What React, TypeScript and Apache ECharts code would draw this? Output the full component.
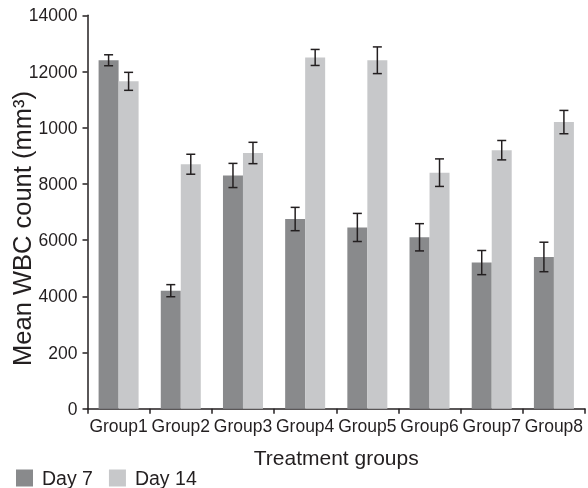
import React, { useEffect, useRef } from "react";
import * as echarts from "echarts";

const categories = ["Group1", "Group2", "Group3", "Group4", "Group5", "Group6", "Group7", "Group8"];
const day7 = [12400, 4200, 8300, 6750, 6450, 6100, 5200, 5400];
const day7Err = [195, 215, 430, 415, 500, 485, 430, 525];
const day14 = [11650, 8700, 9100, 12500, 12400, 8400, 9200, 10200];
const day14Err = [320, 355, 380, 285, 475, 490, 345, 415];
const yTickLabels = ["0", "200", "4000", "6000", "8000", "1000", "12000", "14000"];

const FONT = "Liberation Sans";
const TEXT = "#231f20";
const DARK = "#898a8c";
const LIGHT = "#c7c8ca";

function errorSeries(name: string, values: number[], errs: number[], offset: number) {
  return {
    name: name + " err",
    type: "custom",
    z: 10,
    silent: true,
    data: values.map((v, i) => [i, v, errs[i]]),
    renderItem: (params: any, api: any) => {
      const i = api.value(0);
      const v = api.value(1);
      const e = api.value(2);
      const c = api.coord([i, v]);
      const hi = api.coord([i, v + e]);
      const lo = api.coord([i, v - e]);
      const x = c[0] + offset;
      const cap = 4.5;
      const style = { stroke: TEXT, lineWidth: 1.5 };
      return {
        type: "group",
        children: [
          { type: "line", shape: { x1: x, y1: hi[1], x2: x, y2: lo[1] }, style },
          { type: "line", shape: { x1: x - cap, y1: hi[1], x2: x + cap, y2: hi[1] }, style },
          { type: "line", shape: { x1: x - cap, y1: lo[1], x2: x + cap, y2: lo[1] }, style },
        ],
      };
    },
  };
}

export default function App() {
  const ref = useRef<HTMLDivElement>(null);
  useEffect(() => {
    const chart = echarts.init(ref.current!, null, { renderer: "svg" });
    chart.setOption({
      animation: false,
      textStyle: { fontFamily: FONT, color: TEXT },
      grid: {
        left: 87.5,
        right: 3,
        top: 15.3,
        bottom: 79.3,
        containLabel: false,
        outerBoundsMode: "none",
      },
      legend: {
        left: 16,
        top: 468,
        padding: 0,
        itemWidth: 17,
        itemHeight: 17,
        itemGap: 16,
        icon: "rect",
        data: ["Day 7", "Day 14"],
        textStyle: { fontFamily: FONT, fontSize: 19.5, color: TEXT, padding: [0, 0, 0, 4], lineHeight: 19 },
      },
      xAxis: {
        type: "category",
        data: categories,
        name: "Treatment groups",
        nameLocation: "middle",
        nameGap: 38,
        nameMoveOverlap: false,
        nameTextStyle: { fontFamily: FONT, fontSize: 21, color: TEXT },
        axisLine: { lineStyle: { color: TEXT, width: 1.5 } },
        axisTick: { show: true, length: 5, lineStyle: { color: TEXT, width: 1.5 } },
        axisLabel: { fontFamily: FONT, fontSize: 17.5, color: TEXT, margin: 8, interval: 0 },
      },
      yAxis: {
        type: "value",
        min: 0,
        max: 14000,
        interval: 2000,
        name: "Mean WBC count (mm³)",
        nameLocation: "middle",
        nameGap: 53,
        nameMoveOverlap: false,
        nameTextStyle: { fontFamily: FONT, fontSize: 25.5, color: TEXT, padding: [0, 0, 0, -33] },
        axisLine: { show: true, lineStyle: { color: TEXT, width: 1.5 } },
        axisTick: { show: true, length: 5, lineStyle: { color: TEXT, width: 1.5 } },
        splitLine: { show: false },
        axisLabel: {
          fontFamily: FONT,
          fontSize: 17.5,
          color: TEXT,
          margin: 10,
          formatter: (v: number) => yTickLabels[Math.round(v / 2000)] ?? String(v),
        },
      },
      series: [
        { name: "Day 7", type: "bar", data: day7, barWidth: 20, barGap: "0%", itemStyle: { color: DARK } },
        { name: "Day 14", type: "bar", data: day14, barWidth: 20, barGap: "0%", itemStyle: { color: LIGHT } },
        errorSeries("Day 7", day7, day7Err, -10),
        errorSeries("Day 14", day14, day14Err, 10),
      ],
    });
    return () => chart.dispose();
  }, []);
  return <div ref={ref} style={{ position: "fixed", left: 0, top: 0, width: 588, height: 488 }} />;
}
